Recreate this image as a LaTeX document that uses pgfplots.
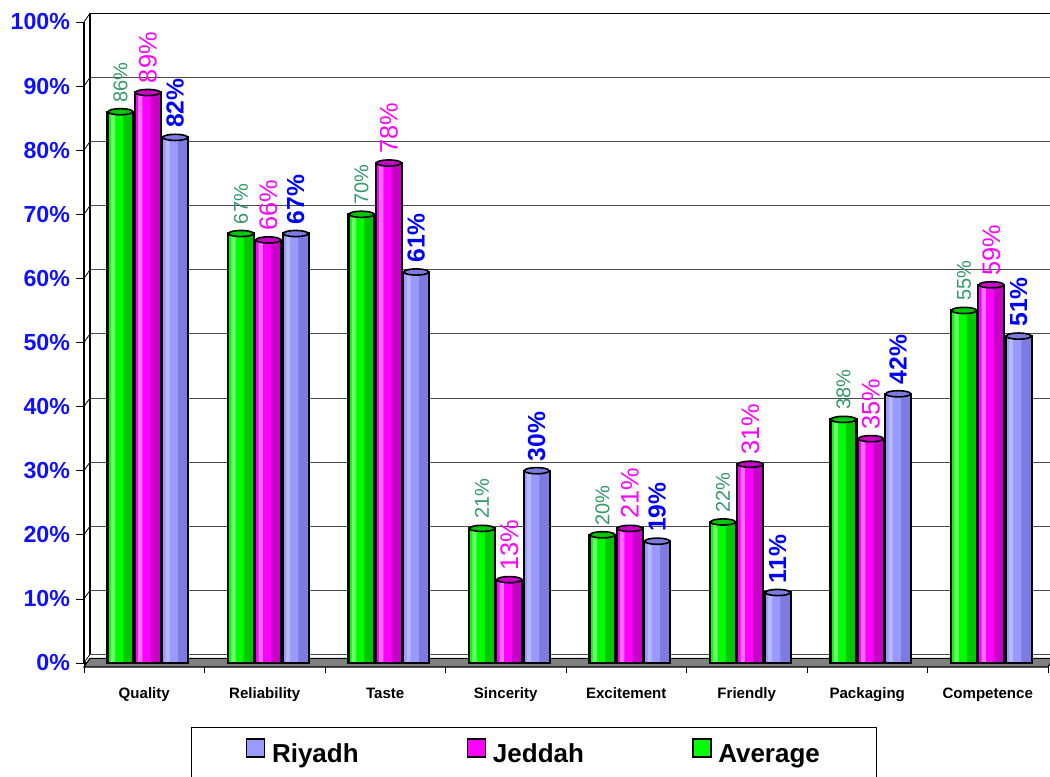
\documentclass[border=0pt]{standalone}
\usepackage{pgfplots}
\usepackage{pgfplotstable}
\pgfplotsset{compat=1.18}
\usepackage{fontspec}
\setmainfont{Liberation Sans}

\definecolor{avgc}{HTML}{00FF00}
\definecolor{avgd}{HTML}{00C800}
\definecolor{avgh}{HTML}{70FF70}
\definecolor{jedc}{HTML}{FF00FF}
\definecolor{jedd}{HTML}{C800C8}
\definecolor{jedh}{HTML}{FF70FF}
\definecolor{riyc}{HTML}{9999FF}
\definecolor{riyd}{HTML}{7C7CE0}
\definecolor{riyh}{HTML}{B8B8FF}
\definecolor{avglab}{HTML}{339966}
\definecolor{jedlab}{HTML}{FF00FF}
\definecolor{riylab}{HTML}{0000FF}
\definecolor{ticklab}{HTML}{1010FF}
\definecolor{floorc}{HTML}{808080}

\pgfplotstableread{
x cat         avg jed riy
0 Quality     86  89  82
1 Reliability 67  66  67
2 Taste       70  78  61
3 Sincerity   21  13  30
4 Excitement  20  21  19
5 Friendly    22  31  11
6 Packaging   38  35  42
7 Competence  55  59  51
}\datatable

\pgfplotsset{
  barfill/.style n args={3}{ybar, bar width=#1, bar shift=#2, fill=#3, draw=none, forget plot},
  barline/.style={ybar, bar width=0.216, bar shift=#1, fill=none, draw=black, line width=1.6pt},
  bartop/.style={only marks, mark=*, mark size=9.3pt,
      mark options={yscale=0.25, fill=#1, draw=black, line width=1.2pt}, forget plot,
      nodes near coords={\pgfmathprintnumber{\pgfplotspointmeta}\%}},
}

\begin{document}
\begin{tikzpicture}
\useasboundingbox (-63pt,-84.75pt) rectangle (724.5pt,497.25pt);
\begin{axis}[
    scale only axis,
    width=723pt, height=480.75pt,
    xmin=-0.5, xmax=7.5,
    ymin=0, ymax=100,
    clip=false,
    axis x line*=bottom,
    axis y line*=left,
    axis line style={black, line width=0.8pt, -},
    xtick={0,...,7},
    xticklabels from table={\datatable}{cat},
    major x tick style={draw=none},
    minor xtick={-0.5,0.5,...,7.5},
    minor x tick style={black, line width=0.6pt},
    minor tick length=7.5pt,
    tick align=outside,
    ytick={0,10,...,100},
    major y tick style={black, line width=0.6pt},
    major tick length=6pt,
    /pgf/number format/assume math mode=true,
    yticklabel={\pgfmathprintnumber{\tick}\%},
    yticklabel style={font=\bfseries\fontsize{17.4}{17.4}\selectfont, color=ticklab, xshift=-1pt},
    xticklabel style={font=\bfseries\fontsize{11.3}{12}\selectfont, yshift=-9pt},
    ymajorgrids,
    major grid style={black!70, line width=0.6pt, xshift=4.5pt, yshift=6.5pt},
    nodes near coords style={rotate=90, anchor=west, inner xsep=6.5pt},
    reverse legend,
    legend columns=3,
    legend style={at={(0.467,0)}, anchor=north, yshift=-48pt,
        draw=black, line width=0.6pt,
        font=\bfseries\fontsize{19.5}{20}\selectfont,
        inner xsep=40.5pt, inner ysep=8pt,
        /tikz/every even column/.append style={column sep=79pt},
        /tikz/every odd column/.append style={column sep=3pt}},
]
% floor and back wall
\fill[floorc, draw=black, line width=0.8pt]
    ([yshift=-3pt]rel axis cs:0,0) -- ([yshift=-3pt]rel axis cs:1,0)
    -- ([xshift=4.5pt,yshift=3.5pt]rel axis cs:1,0)
    -- ([xshift=4.5pt,yshift=3.5pt]rel axis cs:0,0) -- cycle;
\draw[black, line width=0.8pt]
    ([xshift=4.5pt,yshift=6.5pt]rel axis cs:0,0)
    -- ([xshift=4.5pt,yshift=6.5pt]rel axis cs:0,1)
    -- ([xshift=4.5pt,yshift=6.5pt]rel axis cs:1,1);
\pgfplotsinvokeforeach{0,10,20,30,40,50,60,70,80,90,100}{
    \draw[black, line width=0.6pt] (axis cs:-0.5,#1) -- ([xshift=4.5pt,yshift=6.5pt]axis cs:-0.5,#1);
}

% Average
\addplot[barfill={0.216}{-0.197}{avgd}] table[x=x, y=avg] {\datatable};
\addplot[barfill={0.13}{-0.240}{avgc}] table[x=x, y=avg] {\datatable};
\addplot[barfill={0.035}{-0.260}{avgh}] table[x=x, y=avg] {\datatable};
\addplot[barline=-0.197,
    legend image code/.code={\draw[fill=avgc, draw=black, line width=1.2pt] (0pt,-2pt) rectangle (13.5pt,11.5pt);}]
    table[x=x, y=avg] {\datatable};
\addlegendentry{Average}
\addplot[bartop=avgd,
    every node near coord/.append style={color=avglab, font=\fontsize{15}{15}\selectfont}]
    table[x expr=\thisrow{x}-0.197, y=avg] {\datatable};

% Jeddah
\addplot[barfill={0.216}{0.03}{jedd}] table[x=x, y=jed] {\datatable};
\addplot[barfill={0.13}{-0.013}{jedc}] table[x=x, y=jed] {\datatable};
\addplot[barfill={0.035}{-0.033}{jedh}] table[x=x, y=jed] {\datatable};
\addplot[barline=0.03,
    legend image code/.code={\draw[fill=jedc, draw=black, line width=1.2pt] (0pt,-2pt) rectangle (13.5pt,11.5pt);}]
    table[x=x, y=jed] {\datatable};
\addlegendentry{Jeddah}
\addplot[bartop=jedd,
    every node near coord/.append style={color=jedlab, font=\fontsize{19}{19}\selectfont}]
    table[x expr=\thisrow{x}+0.03, y=jed] {\datatable};

% Riyadh
\addplot[barfill={0.216}{0.257}{riyd}] table[x=x, y=riy] {\datatable};
\addplot[barfill={0.13}{0.214}{riyc}] table[x=x, y=riy] {\datatable};
\addplot[barfill={0.035}{0.194}{riyh}] table[x=x, y=riy] {\datatable};
\addplot[barline=0.257,
    legend image code/.code={\draw[fill=riyc, draw=black, line width=1.2pt] (0pt,-2pt) rectangle (13.5pt,11.5pt);}]
    table[x=x, y=riy] {\datatable};
\addlegendentry{Riyadh}
\addplot[bartop=riyd,
    every node near coord/.append style={color=riylab, font=\bfseries\fontsize{18.5}{18.5}\selectfont}]
    table[x expr=\thisrow{x}+0.257, y=riy] {\datatable};
\end{axis}
\end{tikzpicture}
\end{document}
